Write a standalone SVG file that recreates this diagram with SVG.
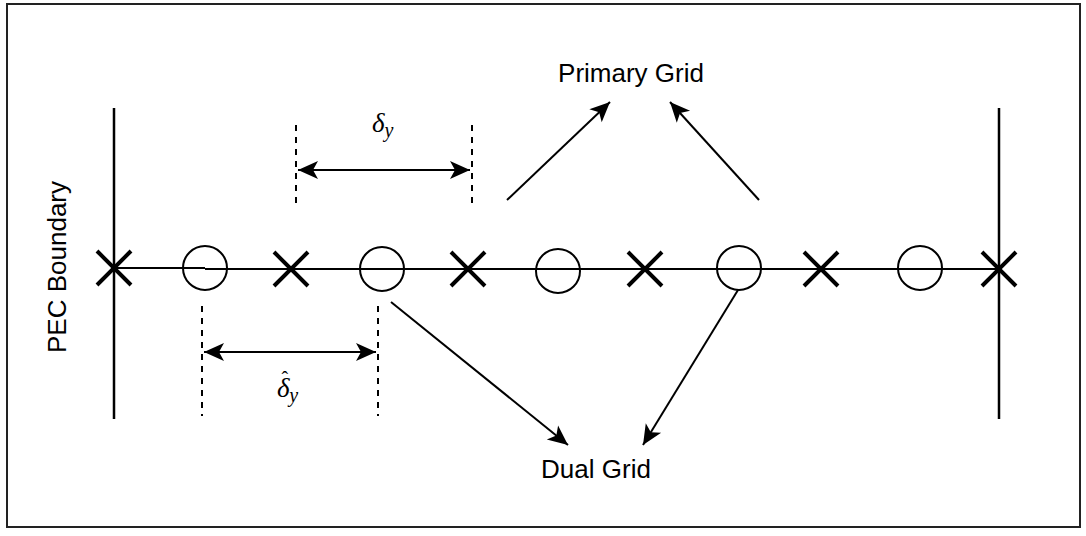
<svg xmlns="http://www.w3.org/2000/svg" width="1086" height="536" viewBox="0 0 1086 536">
  <defs>
    <marker id="head" markerUnits="userSpaceOnUse" markerWidth="24" markerHeight="24" viewBox="-22 -11 24 22" refX="0" refY="0" orient="auto-start-reverse">
      <path d="M0,0 L-20,-9 L-15,0 L-20,9 Z" fill="#000"/>
    </marker>
    <style>
      .frame { fill: #fff; stroke: #222; stroke-width: 2; }
      .axis { fill: none; stroke: #000; stroke-width: 2; }
      .wall { fill: none; stroke: #000; stroke-width: 2.5; }
      .cross { stroke: #000; stroke-width: 4; }
      .ring { fill: none; stroke: #000; stroke-width: 2; }
      .guide { stroke: #000; stroke-width: 2; stroke-dasharray: 6 6; }
      .link { fill: none; stroke: #000; stroke-width: 2; }
      .label { font-family: "Liberation Sans", Arial, Helvetica, sans-serif; font-size: 26px; fill: #000; }
      .math { font-family: "Liberation Serif", "Times New Roman", serif; font-style: italic; fill: #000; font-size: 27px; }
      .sub { font-size: 20px; }
      .hat { font-size: 20px; font-style: normal; }
    </style>
  </defs>

  <!-- outer frame -->
  <rect class="frame" x="7" y="4" width="1073" height="523"/>

  <!-- PEC walls -->
  <g id="pec-left">
    <line class="wall" x1="114" y1="108" x2="114" y2="419"/>
  </g>
  <g id="pec-right">
    <line class="wall" x1="999" y1="108" x2="999" y2="419"/>
  </g>
  <g id="pec-label">
    <text class="label" transform="translate(66,267) rotate(-90)" text-anchor="middle">PEC Boundary</text>
  </g>

  <!-- 1-D grid axis -->
  <g id="axis">
    <path class="axis" d="M114,268 H205 M205,269 H999"/>
  </g>

  <!-- primary grid points (crosses) -->
  <g id="primary-points">
    <g id="p0"><path class="cross" d="M97,251 L131,285 M131,251 L97,285"/></g>
    <g id="p1"><path class="cross" d="M274,252 L308,286 M308,252 L274,286"/></g>
    <g id="p2"><path class="cross" d="M451,252 L485,286 M485,252 L451,286"/></g>
    <g id="p3"><path class="cross" d="M628,252 L662,286 M662,252 L628,286"/></g>
    <g id="p4"><path class="cross" d="M804,252 L838,286 M838,252 L804,286"/></g>
    <g id="p5"><path class="cross" d="M982,252 L1016,286 M1016,252 L982,286"/></g>
  </g>

  <!-- dual grid points (circles) -->
  <g id="dual-points">
    <g id="d0"><circle class="ring" cx="205" cy="268" r="22"/></g>
    <g id="d1"><circle class="ring" cx="382" cy="269" r="22"/></g>
    <g id="d2"><circle class="ring" cx="558" cy="271" r="22"/></g>
    <g id="d3"><circle class="ring" cx="739" cy="268" r="22"/></g>
    <g id="d4"><circle class="ring" cx="920" cy="268" r="22"/></g>
  </g>

  <!-- primary spacing dimension -->
  <g id="dim-primary">
    <line class="guide" x1="296" y1="125" x2="296" y2="206"/>
    <line class="guide" x1="472" y1="125" x2="472" y2="206"/>
    <text class="math" x="372" y="132">δ<tspan class="sub" dy="5">y</tspan></text>
  </g>

  <!-- dual spacing dimension -->
  <g id="dim-dual">
    <line class="guide" x1="202" y1="306" x2="202" y2="416"/>
    <line class="guide" x1="378" y1="306" x2="378" y2="416"/>
    <text class="math" x="277" y="397">δ<tspan class="hat" dx="-8" dy="-11">ˆ</tspan><tspan class="sub" dx="1" dy="16">y</tspan></text>
  </g>

  <!-- labels -->
  <g id="primary-label">
    <text class="label" x="631" y="82" text-anchor="middle">Primary Grid</text>
  </g>
  <g id="dual-label">
    <text class="label" x="596" y="478" text-anchor="middle">Dual Grid</text>
  </g>

  <!-- connectors -->
  <g id="connectors">
    <line class="link" x1="298" y1="170" x2="470" y2="170" marker-start="url(#head)" marker-end="url(#head)"/>
    <line class="link" x1="204" y1="352" x2="376" y2="352" marker-start="url(#head)" marker-end="url(#head)"/>
    <line class="link" x1="507" y1="200" x2="610" y2="102" marker-end="url(#head)"/>
    <line class="link" x1="759" y1="200" x2="670" y2="102" marker-end="url(#head)"/>
    <line class="link" x1="391" y1="302" x2="568" y2="445" marker-end="url(#head)"/>
    <line class="link" x1="738" y1="290" x2="643" y2="445" marker-end="url(#head)"/>
  </g>
</svg>
